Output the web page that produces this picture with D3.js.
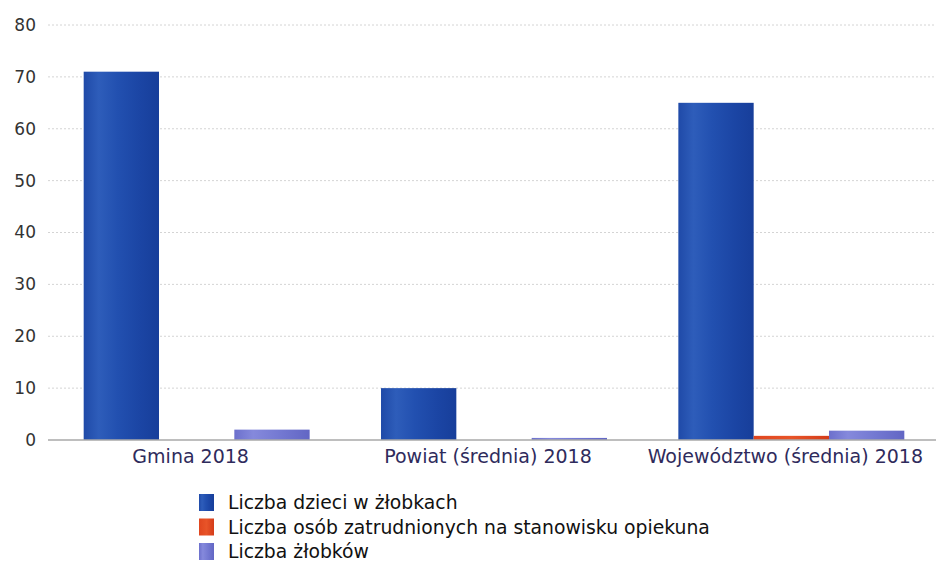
<!DOCTYPE html>
<html>
<head>
<meta charset="utf-8">
<script src="https://d3js.org/d3.v7.min.js"></script>
<style>
  body { margin: 0; background: #fff; }
  text { font-family: "DejaVu Sans", sans-serif; }
</style>
</head>
<body>
<svg width="936" height="565"></svg>
<script>
// data
var categories = ["Gmina 2018", "Powiat (średnia) 2018", "Województwo (średnia) 2018"];
var seriesNames = ["Liczba dzieci w żłobkach", "Liczba osób zatrudnionych na stanowisku opiekuna", "Liczba żłobków"];
var dzieci = [71, 10, 65];
var opiekunowie = [0, 0, 0.8];
var zlobki = [2, 0.4, 1.8];
var yTicks = [0, 10, 20, 30, 40, 50, 60, 70, 80];

var colors = ["blue", "red", "purple"];
var series = [dzieci, opiekunowie, zlobki];

var svg = d3.select("svg");
var plotLeft = 48, plotRight = 940, plotTop = 25, plotBottom = 440;

// gradients to imitate the shaded bars
var defs = svg.append("defs");
function grad(id, stops) {
  var g = defs.append("linearGradient").attr("id", id)
    .attr("x1", "0%").attr("x2", "100%").attr("y1", "0%").attr("y2", "0%");
  stops.forEach(function(s) {
    g.append("stop").attr("offset", s[0]).attr("stop-color", s[1]);
  });
}
grad("blue", [["0%", "#1f4aa8"], ["20%", "#2e5dba"], ["45%", "#2250b0"], ["75%", "#1b45a4"], ["100%", "#173e9a"]]);
grad("red", [["0%", "#e0461f"], ["50%", "#e85428"], ["100%", "#d43c1a"]]);
grad("purple", [["0%", "#6c70cc"], ["25%", "#8589dc"], ["60%", "#7479d2"], ["100%", "#6266c4"]]);

var x = d3.scaleBand().domain(categories).range([plotLeft, plotRight]).paddingInner(0.24).paddingOuter(0.12);
var xs = d3.scaleBand().domain(d3.range(3)).range([0, x.bandwidth()]);
var y = d3.scaleLinear().domain([0, 80]).range([plotBottom, plotTop]);

// dotted grid
svg.append("g").selectAll("line")
  .data(yTicks.slice(1))
  .enter().append("line")
  .attr("x1", plotLeft).attr("x2", 936)
  .attr("y1", function(d) { return y(d); })
  .attr("y2", function(d) { return y(d); })
  .attr("stroke", "#d4d4d4")
  .attr("stroke-width", 1)
  .attr("stroke-dasharray", "2,2");

// y labels
var yAxis = svg.append("g")
  .attr("transform", "translate(36,0)")
  .call(d3.axisLeft(y).tickValues(yTicks).tickSize(0).tickPadding(0));
yAxis.select(".domain").remove();
yAxis.selectAll("text")
  .attr("font-size", "17px")
  .attr("fill", "#333")
  .attr("font-family", "\"DejaVu Sans\", sans-serif");

// bars
var groups = svg.append("g").selectAll("g")
  .data(categories)
  .enter().append("g")
  .attr("transform", function(d) { return "translate(" + x(d) + ",0)"; });

groups.selectAll("rect")
  .data(function(d, i) { return series.map(function(s, j) { return { j: j, v: s[i] }; }); })
  .enter().append("rect")
  .attr("x", function(d) { return xs(d.j); })
  .attr("width", xs.bandwidth())
  .attr("y", function(d) { return y(d.v); })
  .attr("height", function(d) { return plotBottom - y(d.v); })
  .attr("fill", function(d) { return "url(#" + colors[d.j] + ")"; });

// baseline
svg.append("line")
  .attr("x1", plotLeft).attr("x2", 936)
  .attr("y1", plotBottom).attr("y2", plotBottom)
  .attr("stroke", "#a8a8a8").attr("stroke-width", 1.5);

// category labels
var xAxis = svg.append("g")
  .attr("transform", "translate(-6," + plotBottom + ")")
  .call(d3.axisBottom(x).tickSize(0).tickPadding(10));
xAxis.select(".domain").remove();
xAxis.selectAll("text")
  .attr("font-size", "19px")
  .attr("fill", "#2f2b5c")
  .attr("font-family", "\"DejaVu Sans\", sans-serif");

// legend
var legend = svg.append("g").attr("transform", "translate(199,494)");
var row = legend.selectAll("g")
  .data(seriesNames)
  .enter().append("g")
  .attr("transform", function(d, i) { return "translate(0," + (i * 24.5) + ")"; });
row.append("rect")
  .attr("width", 15).attr("height", 17)
  .attr("fill", function(d, i) { return "url(#" + colors[i] + ")"; });
row.append("text")
  .attr("x", 29).attr("y", 15)
  .attr("font-size", "18.8px")
  .attr("fill", "#111")
  .text(function(d) { return d; });
</script>
</body>
</html>
